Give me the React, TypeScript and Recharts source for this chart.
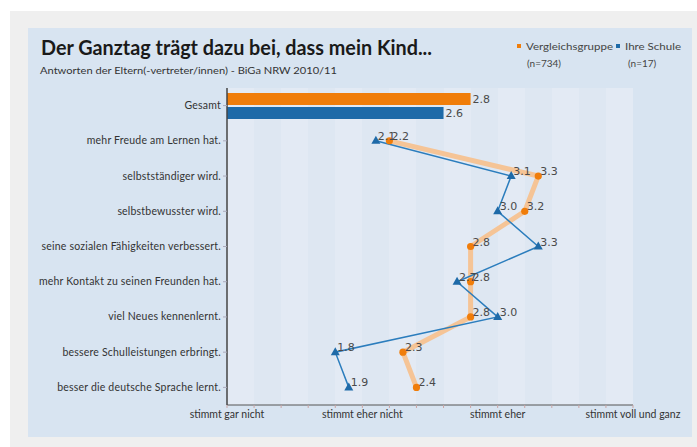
import React from 'react';
import { ComposedChart, Bar, Line, XAxis, YAxis, CartesianGrid, LabelList } from 'recharts';

const categories = [
  'Gesamt',
  'mehr Freude am Lernen hat.',
  'selbstständiger wird.',
  'selbstbewusster wird.',
  'seine sozialen Fähigkeiten verbessert.',
  'mehr Kontakt zu seinen Freunden hat.',
  'viel Neues kennenlernt.',
  'bessere Schulleistungen erbringt.',
  'besser die deutsche Sprache lernt.',
];
// first value = "Gesamt" (drawn as bar), the rest are drawn as lines
const vergleichsgruppe = [2.8, 2.2, 3.3, 3.2, 2.8, 2.8, 2.8, 2.3, 2.4];
const ihreSchule = [2.6, 2.1, 3.1, 3.0, 3.3, 2.7, 3.0, 1.8, 1.9];

const xTicks = [1, 1.2, 1.4, 1.6, 1.8, 2, 2.2, 2.4, 2.6, 2.8, 3, 3.2, 3.4, 3.6, 3.8, 4];
const xTickLabels = ['stimmt gar nicht', 'stimmt eher nicht', 'stimmt eher', 'stimmt voll und ganz'];

const ORANGE = '#f07d0a';
const BLUE = '#1e6aa8';
const ORANGE_LINE = '#f5c496';
const BLUE_LINE = '#2b7dbd';
const FONT = 'Lato, "Open Sans", sans-serif';
const VALFONT = '"DejaVu Sans", Verdana, sans-serif';

const data = categories.map((name, i) => ({
  name,
  vgBar: i === 0 ? vergleichsgruppe[i] : null,
  isBar: i === 0 ? ihreSchule[i] : null,
  vgLine: i === 0 ? null : vergleichsgruppe[i],
  isLine: i === 0 ? null : ihreSchule[i],
}));

const XTick = (props: any) => {
  const { x, y, payload } = props;
  const v = payload.value;
  const idx = Math.round(v - 1);
  if (Math.abs(v - 1 - idx) > 1e-6) return <g />;
  return (
    <text x={x} y={y + 8} textAnchor="middle" fontFamily={FONT} fontSize={10.5} fill="#333">
      {xTickLabels[idx]}
    </text>
  );
};

const YTick = (props: any) => {
  const { x, y, payload } = props;
  return (
    <text x={x} y={y + 3.5} textAnchor="end" fontFamily={FONT} fontSize={10.5} letterSpacing={0.2} fill="#333">
      {payload.value}
    </text>
  );
};

const barLabel = (p: any) => {
  if (p.value == null) return null;
  return (
    <text
      x={p.x + p.width + 2}
      y={p.y + p.height / 2 + 4}
      fontFamily={VALFONT}
      fontSize={11}
      fill="#4a4a4a"
    >
      {Number(p.value).toFixed(1)}
    </text>
  );
};

const lineLabel = (p: any) => {
  if (p.value == null || p.x == null) return null;
  return (
    <text x={p.x + 2} y={p.y - 1} fontFamily={VALFONT} fontSize={11} fill="#4a4a4a">
      {Number(p.value).toFixed(1)}
    </text>
  );
};

const OrangeDot = (p: any) => {
  if (p.cx == null || p.cy == null || p.value == null) return <g key={p.index} />;
  return <circle key={p.index} cx={p.cx} cy={p.cy} r={3.6} fill={ORANGE} />;
};

const BlueDot = (p: any) => {
  if (p.cx == null || p.cy == null || p.value == null) return <g key={p.index} />;
  const { cx, cy } = p;
  return (
    <polygon
      key={p.index}
      points={`${cx},${cy - 5} ${cx - 4.5},${cy + 3} ${cx + 4.5},${cy + 3}`}
      fill={BLUE}
    />
  );
};

export default function App() {
  return (
    <div style={{ position: 'absolute', left: 0, top: 0, width: 697, height: 447, background: '#ffffff', overflow: 'hidden' }}>
      <div style={{ position: 'absolute', left: 10, top: 11, width: 687, height: 436, background: '#efefef' }} />
      <div style={{ position: 'absolute', left: 28, top: 28, width: 664, height: 409, background: '#d8e4f1' }} />
      <div style={{ position: 'absolute', left: 0, top: 0 }}>
        <ComposedChart
          width={697}
          height={447}
          data={data}
          layout="vertical"
          margin={{ top: 88, right: 64, bottom: 12, left: 27 }}
          barSize={12}
          barGap={2}
        >
          <CartesianGrid
            horizontal={false}
            vertical={true}
            stroke="none"
            verticalFill={['#e3eaf4', '#dee7f2']}
          />
          <XAxis
            type="number"
            domain={[1, 4]}
            ticks={xTicks}
            interval={0}
            height={30}
            tick={<XTick />}
            tickSize={3}
            tickLine={{ stroke: '#c9a5a5' }}
            axisLine={{ stroke: '#555', strokeWidth: 1 }}
            allowDecimals={true}
          />
          <YAxis
            type="category"
            dataKey="name"
            width={200}
            interval={0}
            tick={<YTick />}
            tickSize={4}
            tickMargin={2}
            tickLine={{ stroke: '#aab' }}
            axisLine={{ stroke: '#444', strokeWidth: 1.5 }}
          />
          <Bar dataKey="vgBar" fill={ORANGE} isAnimationActive={false}>
            <LabelList dataKey="vgBar" content={barLabel} />
          </Bar>
          <Bar dataKey="isBar" fill={BLUE} isAnimationActive={false}>
            <LabelList dataKey="isBar" content={barLabel} />
          </Bar>
          <Line
            dataKey="vgLine"
            stroke={ORANGE_LINE}
            strokeWidth={5}
            strokeLinejoin="round"
            dot={OrangeDot}
            activeDot={false}
            isAnimationActive={false}
          >
            <LabelList dataKey="vgLine" content={lineLabel} />
          </Line>
          <Line
            dataKey="isLine"
            stroke={BLUE_LINE}
            strokeWidth={1.5}
            dot={BlueDot}
            activeDot={false}
            isAnimationActive={false}
          >
            <LabelList dataKey="isLine" content={lineLabel} />
          </Line>
        </ComposedChart>
      </div>
      <svg style={{ position: 'absolute', left: 0, top: 0, pointerEvents: 'none' }} width={697} height={447}>
        <text x={41} y={55} fontFamily={FONT} fontWeight="bold" fontSize={20} fill="#1a1a1a" textLength={391} lengthAdjust="spacingAndGlyphs">
          Der Ganztag trägt dazu bei, dass mein Kind...
        </text>
        <text x={40} y={74} fontFamily={FONT} fontSize={10} fill="#333" textLength={297} lengthAdjust="spacingAndGlyphs">
          Antworten der Eltern(-vertreter/innen) - BiGa NRW 2010/11
        </text>
        <rect x={517} y={44} width={4} height={4} fill={ORANGE} />
        <text x={526} y={50} fontFamily={FONT} fontSize={10} fill="#444" textLength={87} lengthAdjust="spacingAndGlyphs">Vergleichsgruppe</text>
        <text x={527} y={67} fontFamily={FONT} fontSize={10} fill="#444">(n=734)</text>
        <rect x={616} y={44} width={4} height={4} fill={BLUE} />
        <text x={625} y={50} fontFamily={FONT} fontSize={10} fill="#444" textLength={56} lengthAdjust="spacingAndGlyphs">Ihre Schule</text>
        <text x={628} y={67} fontFamily={FONT} fontSize={10} fill="#444">(n=17)</text>
      </svg>
    </div>
  );
}
